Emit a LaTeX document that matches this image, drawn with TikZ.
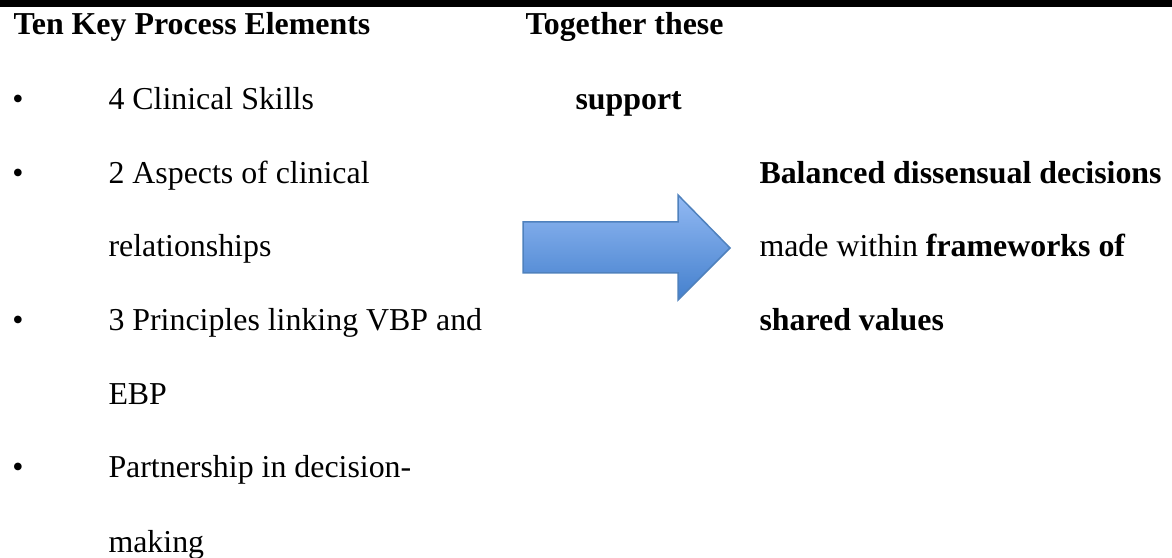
\documentclass[tikz,border=0pt]{standalone}
\usepackage{fontspec}
\setmainfont{Liberation Serif}
\begin{document}
\begin{tikzpicture}[x=0.4pt,y=-0.4pt,
  txt/.style={anchor=base west,inner sep=0pt,font=\fontsize{12.75}{15}\selectfont},
  hd/.style={txt,font=\fontsize{12.75}{15}\selectfont\bfseries},
  bul/.style={anchor=base,inner sep=0pt,font=\fontsize{12.75}{15}\selectfont}]
\useasboundingbox (0,0) rectangle (1172,558);
\fill[black] (0,0) rectangle (1172,7);
% left column
\node[hd] (h1) at (13,35) {Ten Key Process Elements};
\node[bul] (b1) at (18,110) {\textbullet};
\node[txt] (l1) at (108,110) {4 Clinical Skills};
\node[bul] (b2) at (18,184) {\textbullet};
\node[txt] (l2) at (108,184) {2 Aspects of clinical};
\node[txt] (l3) at (108,257) {relationships};
\node[bul] (b3) at (18,331) {\textbullet};
\node[txt] (l4) at (108,331) {3 Principles linking VBP and};
\node[txt] (l5) at (108,405) {EBP};
\node[bul] (b4) at (18,478) {\textbullet};
\node[txt] (l6) at (108,478) {Partnership in decision-};
\node[txt] (l7) at (108,552) {making};
% middle
\node[hd] (h2) at (525,35) {Together these};
\node[hd] (s1) at (575,110) {support};
% arrow
\draw[draw={rgb,255:red,79;green,129;blue,189},line width=0.6pt,
      top color={rgb,255:red,146;green,185;blue,243},
      bottom color={rgb,255:red,68;green,128;blue,205}]
  (523,222) -- (678,222) -- (678,195) -- (730,248) -- (678,300) -- (678,273) -- (523,273) -- cycle;
% right column
\node[hd] (r1) at (759,184) {Balanced dissensual decisions};
\node[txt] (r2) at (759,257) {made within \textbf{frameworks of}};
\node[hd] (r3) at (759,331) {shared values};
\end{tikzpicture}
\end{document}
